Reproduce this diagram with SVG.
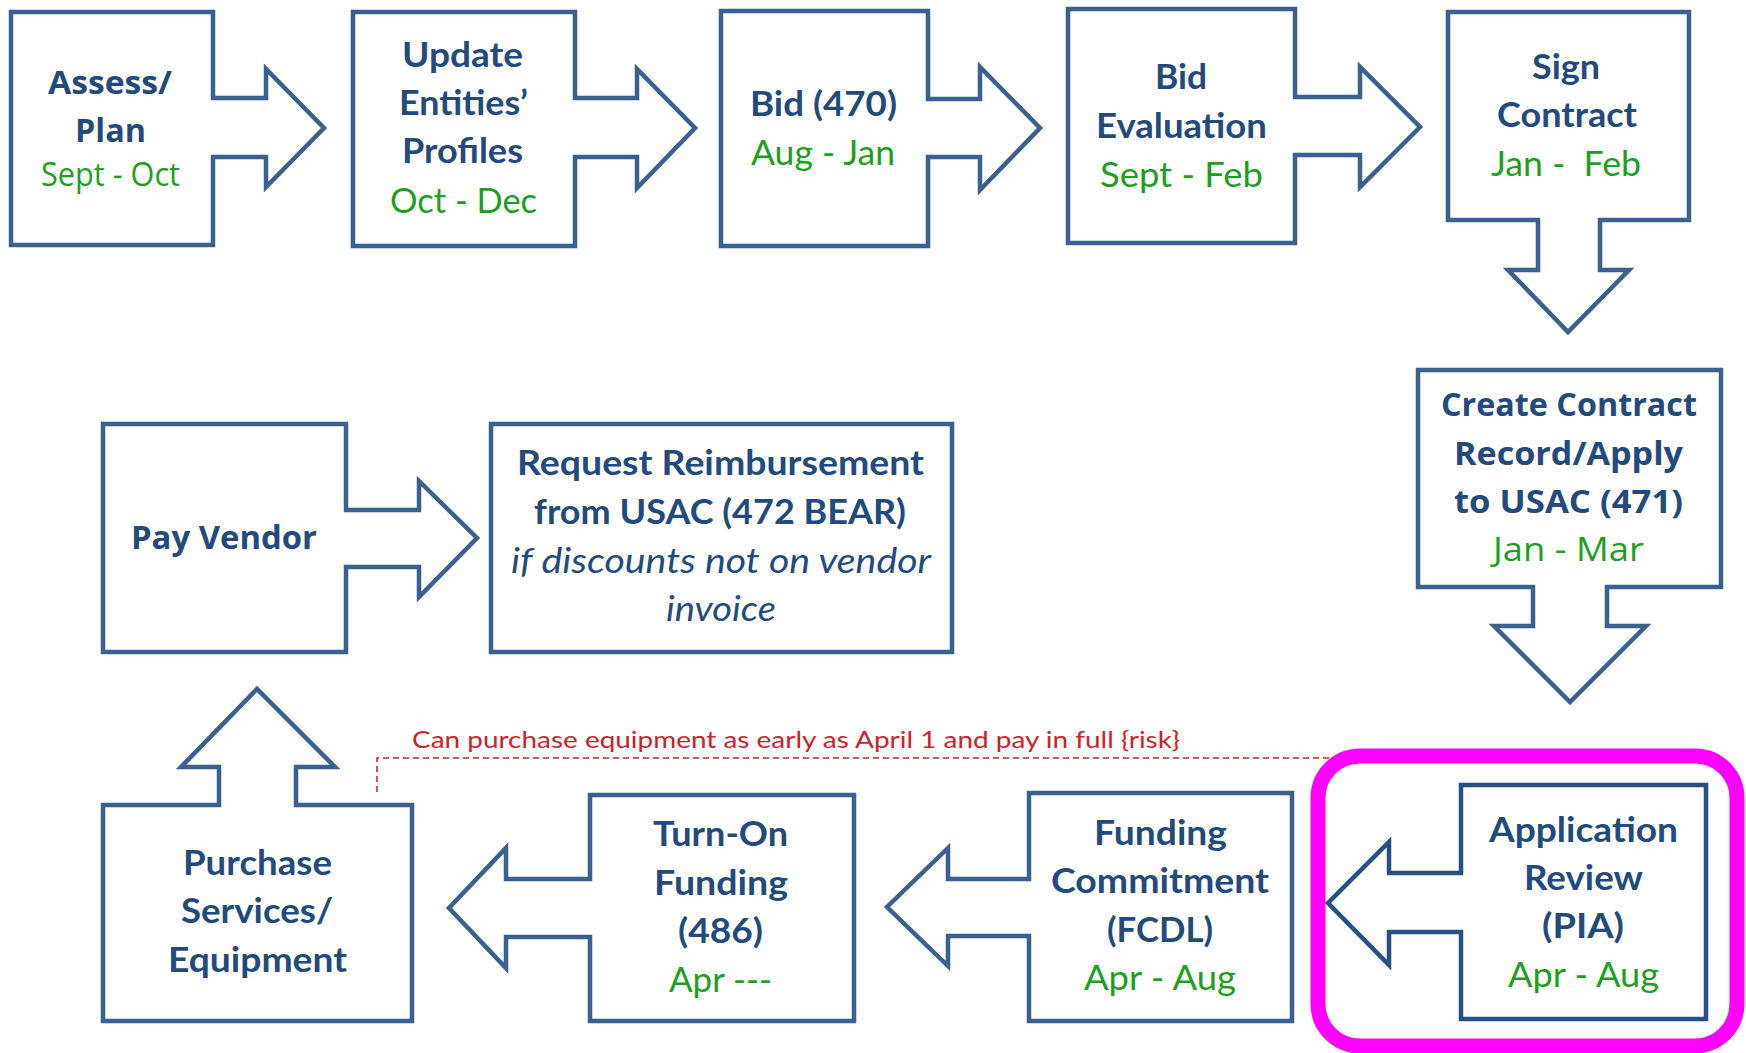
<svg xmlns="http://www.w3.org/2000/svg" width="1746" height="1053" viewBox="0 0 1746 1053">
<style>
.box{fill:#ffffff;stroke:#3b5f8e;stroke-width:4.5;stroke-linejoin:miter}
.box.dark{stroke:#284f84}
.t{font-family:Lato,"Liberation Sans",sans-serif;font-weight:700;font-size:34px;fill:#244a7d;text-anchor:middle}
.s{font-family:"Open Sans","Liberation Sans",sans-serif;font-weight:700;font-size:32px}
.g{fill:#1e9e1e;font-weight:400}
.i{font-style:italic;font-weight:400}
.r{font-family:Lato,"Liberation Sans",sans-serif;font-size:23px;fill:#cc2229}
.dash{fill:none;stroke:#cc2229;stroke-width:1.6;stroke-dasharray:6 4}
.hl{fill:none;stroke:#ff00ff;stroke-width:15}
</style>
<rect width="1746" height="1053" fill="#ffffff"/>

<g id="connectors">
<path class="dash" d="M377,792 V758 H1340"/>
<text class="r" x="412" y="748" textLength="768" lengthAdjust="spacingAndGlyphs">Can purchase equipment as early as April 1 and pay in full {risk}</text>
</g>

<g id="node-assess">
<path class="box" d="M11,12 H213 V98 H266 V69 L324,128 L266,187 V157 H213 V245 H11 Z"/>
<text class="t s" x="110" y="94" textLength="124" lengthAdjust="spacingAndGlyphs">Assess/</text>
<text class="t s" x="110.5" y="142" textLength="71" lengthAdjust="spacingAndGlyphs">Plan</text>
<text class="t s g" x="110.5" y="186" font-size="28" textLength="139" lengthAdjust="spacingAndGlyphs">Sept - Oct</text>
</g>

<g id="node-update">
<path class="box" d="M353,12 H575 V98 H637 V69 L695,128 L637,188 V157 H575 V246 H353 Z"/>
<text class="t" x="462.5" y="67" textLength="121" lengthAdjust="spacingAndGlyphs">Update</text>
<text class="t" x="463.5" y="115" textLength="129" lengthAdjust="spacingAndGlyphs">Entities’</text>
<text class="t" x="462.5" y="163" textLength="121" lengthAdjust="spacingAndGlyphs">Profiles</text>
<text class="t g" x="463.5" y="213" textLength="147" lengthAdjust="spacingAndGlyphs">Oct - Dec</text>
</g>

<g id="node-bid">
<path class="box" d="M721,11 H928 V99 H980 V67 L1040,128 L980,190 V157 H928 V246 H721 Z"/>
<text class="t" x="823.5" y="116" textLength="147" lengthAdjust="spacingAndGlyphs">Bid (470)</text>
<text class="t g" x="823" y="165" textLength="144" lengthAdjust="spacingAndGlyphs">Aug - Jan</text>
</g>

<g id="node-bideval">
<path class="box" d="M1068,9 H1295 V97 H1360 V67 L1420,127 L1360,187 V155 H1295 V243 H1068 Z"/>
<text class="t" x="1181" y="89" textLength="52" lengthAdjust="spacingAndGlyphs">Bid</text>
<text class="t" x="1181.5" y="138" textLength="171" lengthAdjust="spacingAndGlyphs">Evaluation</text>
<text class="t g" x="1181.5" y="187" textLength="163" lengthAdjust="spacingAndGlyphs">Sept - Feb</text>
</g>

<g id="node-sign">
<path class="box" d="M1448,12 H1689 V220 H1600 V270 H1629 L1568,332 L1508,270 H1538 V220 H1448 Z"/>
<text class="t" x="1566" y="79" textLength="68" lengthAdjust="spacingAndGlyphs">Sign</text>
<text class="t" x="1567" y="127" textLength="140" lengthAdjust="spacingAndGlyphs">Contract</text>
<text class="t g" x="1566" y="176" xml:space="preserve" textLength="150" lengthAdjust="spacingAndGlyphs">Jan -  Feb</text>
</g>

<g id="node-create">
<path class="box" d="M1418,370 H1721 V587 H1607 V626 H1646 L1570,702 L1494,626 H1533 V587 H1418 Z"/>
<text class="t s" x="1569" y="416" textLength="256" lengthAdjust="spacingAndGlyphs">Create Contract</text>
<text class="t s" x="1568.5" y="465" textLength="229" lengthAdjust="spacingAndGlyphs">Record/Apply</text>
<text class="t s" x="1568.5" y="513" textLength="229" lengthAdjust="spacingAndGlyphs">to USAC (471)</text>
<text class="t s g" x="1568.5" y="561" textLength="151" lengthAdjust="spacingAndGlyphs">Jan - Mar</text>
</g>

<g id="node-application">
<path class="box dark" d="M1461,785 H1706 V1019 H1461 V932 H1389 V965 L1328,903 L1389,842 V873 H1461 Z"/>
<text class="t" x="1583.5" y="842" textLength="189" lengthAdjust="spacingAndGlyphs">Application</text>
<text class="t" x="1583.5" y="890" textLength="119" lengthAdjust="spacingAndGlyphs">Review</text>
<text class="t" x="1583" y="938" textLength="82" lengthAdjust="spacingAndGlyphs">(PIA)</text>
<text class="t g" x="1583.5" y="987" textLength="151" lengthAdjust="spacingAndGlyphs">Apr - Aug</text>
</g>

<g id="highlight">
<rect class="hl" x="1318" y="756" width="419" height="290" rx="42" ry="42"/>
</g>

<g id="node-funding">
<path class="box" d="M1029,793 H1292 V1021 H1029 V936 H948 V966 L887,907 L948,848 V879 H1029 Z"/>
<text class="t" x="1160.5" y="845" textLength="133" lengthAdjust="spacingAndGlyphs">Funding</text>
<text class="t" x="1160" y="893" textLength="218" lengthAdjust="spacingAndGlyphs">Commitment</text>
<text class="t" x="1160" y="942" textLength="106" lengthAdjust="spacingAndGlyphs">(FCDL)</text>
<text class="t g" x="1160" y="990" textLength="152" lengthAdjust="spacingAndGlyphs">Apr - Aug</text>
</g>

<g id="node-turnon">
<path class="box" d="M590,795 H854 V1021 H590 V937 H506 V968 L449,908 L506,848 V879 H590 Z"/>
<text class="t" x="720.5" y="846" textLength="135" lengthAdjust="spacingAndGlyphs">Turn-On</text>
<text class="t" x="721" y="895" textLength="134" lengthAdjust="spacingAndGlyphs">Funding</text>
<text class="t" x="720.5" y="943" textLength="85" lengthAdjust="spacingAndGlyphs">(486)</text>
<text class="t g" x="720.5" y="992" textLength="103" lengthAdjust="spacingAndGlyphs">Apr ---</text>
</g>

<g id="node-purchase">
<path class="box" d="M103,805 H219 V767 H181 L257,689 L335,767 H296 V805 H412 V1021 H103 Z"/>
<text class="t" x="257.5" y="875" textLength="149" lengthAdjust="spacingAndGlyphs">Purchase</text>
<text class="t" x="257" y="923" textLength="152" lengthAdjust="spacingAndGlyphs">Services/</text>
<text class="t" x="257.5" y="972" textLength="179" lengthAdjust="spacingAndGlyphs">Equipment</text>
</g>

<g id="node-payvendor">
<path class="box" d="M103,424 H346 V510 H419 V481 L477,538 L419,597 V567 H346 V652 H103 Z"/>
<text class="t s" x="224" y="549" textLength="186" lengthAdjust="spacingAndGlyphs">Pay Vendor</text>
</g>

<g id="node-request">
<rect class="box" x="491" y="424" width="461" height="228"/>
<text class="t" x="720.5" y="475" textLength="407" lengthAdjust="spacingAndGlyphs">Request Reimbursement</text>
<text class="t" x="720" y="524" textLength="372" lengthAdjust="spacingAndGlyphs">from USAC (472 BEAR)</text>
<text class="t i" x="721" y="573" textLength="420" lengthAdjust="spacingAndGlyphs">if discounts not on vendor</text>
<text class="t i" x="721" y="621" textLength="110" lengthAdjust="spacingAndGlyphs">invoice</text>
</g>
</svg>
